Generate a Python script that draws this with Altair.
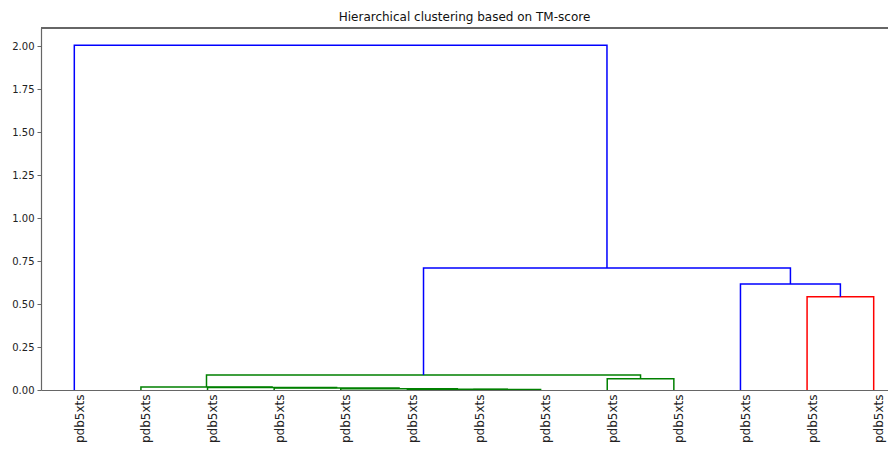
import json
import altair as alt
import pandas as pd

# ---- data -----------------------------------------------------------------
leaf_labels = ["pdb5xts"] * 13
# merges: (left child, right child, height, colour); ids 0..12 are leaves,
# merge k gets id 13 + k  (scipy-style linkage in leaf order)
merge_left = [6, 5, 4, 3, 2, 1, 8, 18, 11, 10, 20, 0]
merge_right = [7, 13, 14, 15, 16, 17, 9, 19, 12, 21, 22, 23]
merge_height = [0.003, 0.005, 0.008, 0.011, 0.014, 0.018, 0.065, 0.088,
                0.543, 0.617, 0.710, 2.007]
merge_color = ["#008000"] * 8 + ["#ff0000", "#0000ff", "#0000ff", "#0000ff"]
y_ticks = [0.0, 0.25, 0.5, 0.75, 1.0, 1.25, 1.5, 1.75, 2.0]
title = "Hierarchical clustering based on TM-score"

# ---- build dendrogram segments (leaf i sits at 5 + 10 i) ----------------
n = len(leaf_labels)
pos = {i: 5 + 10 * i for i in range(n)}
hgt = {i: 0.0 for i in range(n)}
rows = []
for k, (a, b, h, c) in enumerate(zip(merge_left, merge_right, merge_height, merge_color)):
    xa, ya, xb, yb = pos[a], hgt[a], pos[b], hgt[b]
    for o, (x, y) in enumerate([(xa, ya), (xa, h), (xb, h), (xb, yb)]):
        rows.append({"link": k, "o": o, "x": x, "y": y, "color": c})
    pos[n + k] = (xa + xb) / 2
    hgt[n + k] = h
df = pd.DataFrame(rows)

ymax = max(merge_height) * 1.05
W, H = 847, 362
xmax = 130 * W / 866

label_expr = json.dumps(leaf_labels) + "[round((datum.value - 5) / 10)]"

lines = alt.Chart(df).mark_line(strokeWidth=1.5, clip=True).encode(
    x=alt.X("x:Q", scale=alt.Scale(domain=[0, xmax], nice=False, zero=True),
            axis=alt.Axis(values=[5 + 10 * i for i in range(n)], labelExpr=label_expr,
                          title=None, ticks=False, grid=False, labelAngle=-90,
                          labelAlign="right", labelBaseline="middle",
                          labelPadding=4, labelOffset=5, labelFontSize=12,
                          labelColor="#222", domainColor="#666", domainWidth=1.2,
                          labelFont="DejaVu Sans")),
    y=alt.Y("y:Q", scale=alt.Scale(domain=[0, ymax], nice=False),
            axis=alt.Axis(values=y_ticks, format=".2f", title=None, grid=False,
                          tickSize=4, tickColor="#666", domainColor="#666",
                          domainWidth=1.2, labelPadding=3, labelFontSize=10,
                          labelColor="#222", labelFont="DejaVu Sans")),
    detail="link:N",
    order="o:Q",
    color=alt.Color("color:N", scale=None),
)

top_spine = alt.Chart(df).mark_rule(color="#666", strokeWidth=1.2).encode(
    x=alt.value(0), x2=alt.value(W), y=alt.value(0)
)

chart = alt.layer(lines, top_spine).properties(
    width=W, height=H,
    title=alt.TitleParams(title, fontSize=12, font="DejaVu Sans", fontWeight="normal",
                          color="#111", anchor="middle", offset=3),
    autosize=alt.AutoSizeParams(type="none"),
    padding={"left": 33, "top": 20, "right": 0, "bottom": 52},
).configure_view(stroke=None)

chart.save("out.html", embed_options={"renderer": "svg", "actions": False})
